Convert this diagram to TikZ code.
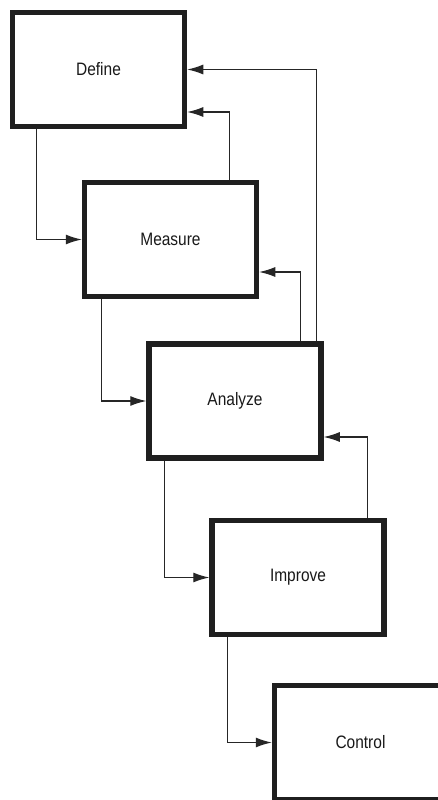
\documentclass[tikz,border=0pt]{standalone}
\usepackage{fontspec}
\setmainfont{Liberation Sans}[FakeStretch=0.86]
\usetikzlibrary{arrows.meta}
\begin{document}
\begin{tikzpicture}[x=1pt,y=-1pt,
  phase/.style={draw=black!88,line width=5.5pt,minimum width=172pt,minimum height=114pt,
    inner sep=0pt,fill=white,font=\fontsize{18}{21}\selectfont,text=black!90},
  arr/.style={draw=black!85,line width=1.2pt,-{Latex[length=16pt,width=10pt]}}]
\clip (0,0) rectangle (438,800);
\fill[white] (0,0) rectangle (438,800);
% the five phases, stepping down to the right
\node[phase] (define)  at (98.5,69.5)   {Define};
\node[phase] (measure) at (170.5,239.5) {Measure};
\node[phase] (analyze) at (235,401)     {Analyze};
\node[phase] (improve) at (298,577.5)   {Improve};
\node[phase] (control) at (360.5,742.5) {Control};
% forward flow
\draw[arr] ([xshift=27pt]define.south west)  |- (measure.west);
\draw[arr] ([xshift=20pt]measure.south west) |- (analyze.west);
\draw[arr] ([xshift=18pt]analyze.south west) |- (improve.west);
\draw[arr] ([xshift=18pt]improve.south west) |- (control.west);
% feedback loops
\draw[arr] ([xshift=-30pt]measure.north east)  |- ([yshift=-42.5pt]define.east);
\draw[arr] ([xshift=-7.5pt]analyze.north east) |- (define.east);
\draw[arr] ([xshift=-23pt]analyze.north east)  |- ([yshift=-32.5pt]measure.east);
\draw[arr] ([xshift=-19pt]improve.north east)  |- ([yshift=-36pt]analyze.east);
\end{tikzpicture}
\end{document}
